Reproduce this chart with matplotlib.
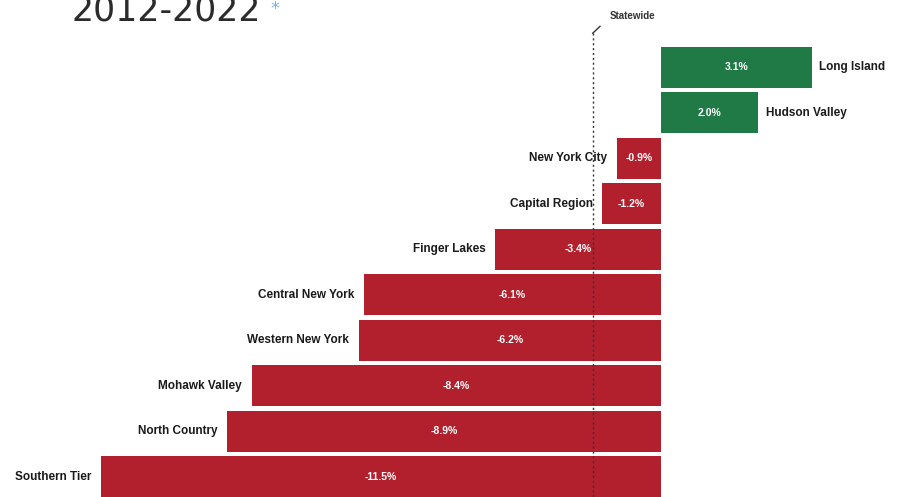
import matplotlib.pyplot as plt

regions = ["Long Island", "Hudson Valley", "New York City", "Capital Region",
           "Finger Lakes", "Central New York", "Western New York",
           "Mohawk Valley", "North Country", "Southern Tier"]
change = [3.1, 2.0, -0.9, -1.2, -3.4, -6.1, -6.2, -8.4, -8.9, -11.5]
statewide = -1.4

label_font = "Liberation Sans"
green = "#1f7a45"
red = "#b3202d"

fig = plt.figure(figsize=(9, 4.97), dpi=100)
ax = fig.add_axes([0, 0, 1, 1])
ax.set_xlim(-13.57, 4.91)
ax.set_ylim(9.44, -1.48)
ax.axis("off")

ypos = list(range(len(regions)))
colors = [green if v > 0 else red for v in change]
ax.barh(ypos, change, height=0.9, color=colors, zorder=2)

for y, name, v in zip(ypos, regions, change):
    ax.text(v / 2, y, f"{v:.1f}%", color="white", ha="center", va="center",
            fontsize=7.5, fontweight="bold", family=label_font, zorder=4)
    if v > 0:
        ax.text(v + 0.15, y, name, ha="left", va="center", fontsize=8.5,
                fontweight="bold", family=label_font, color="#1a1a1a")
    else:
        ax.text(v - 0.2, y, name, ha="right", va="center", fontsize=8.5,
                fontweight="bold", family=label_font, color="#1a1a1a")

# statewide reference line
ax.plot([statewide, statewide], [-0.75, 9.44], color="#333333", lw=1,
        ls=(0, (1.5, 2)), zorder=3)
ax.plot([statewide, statewide + 0.15], [-0.75, -0.9], color="#333333", lw=1)
ax.text(statewide + 0.35, -1.12, "Statewide", ha="left", va="center",
        fontsize=7, fontweight="bold", family=label_font, color="#333333")

fig.text(0.08, 0.958, "2012-2022", fontsize=25, color="#2b2b2b",
         ha="left", va="baseline")
fig.text(0.301, 0.972, "*", fontsize=13, color="#7fb2e0", ha="left",
         va="baseline")

fig.savefig("out.png", dpi=100)
